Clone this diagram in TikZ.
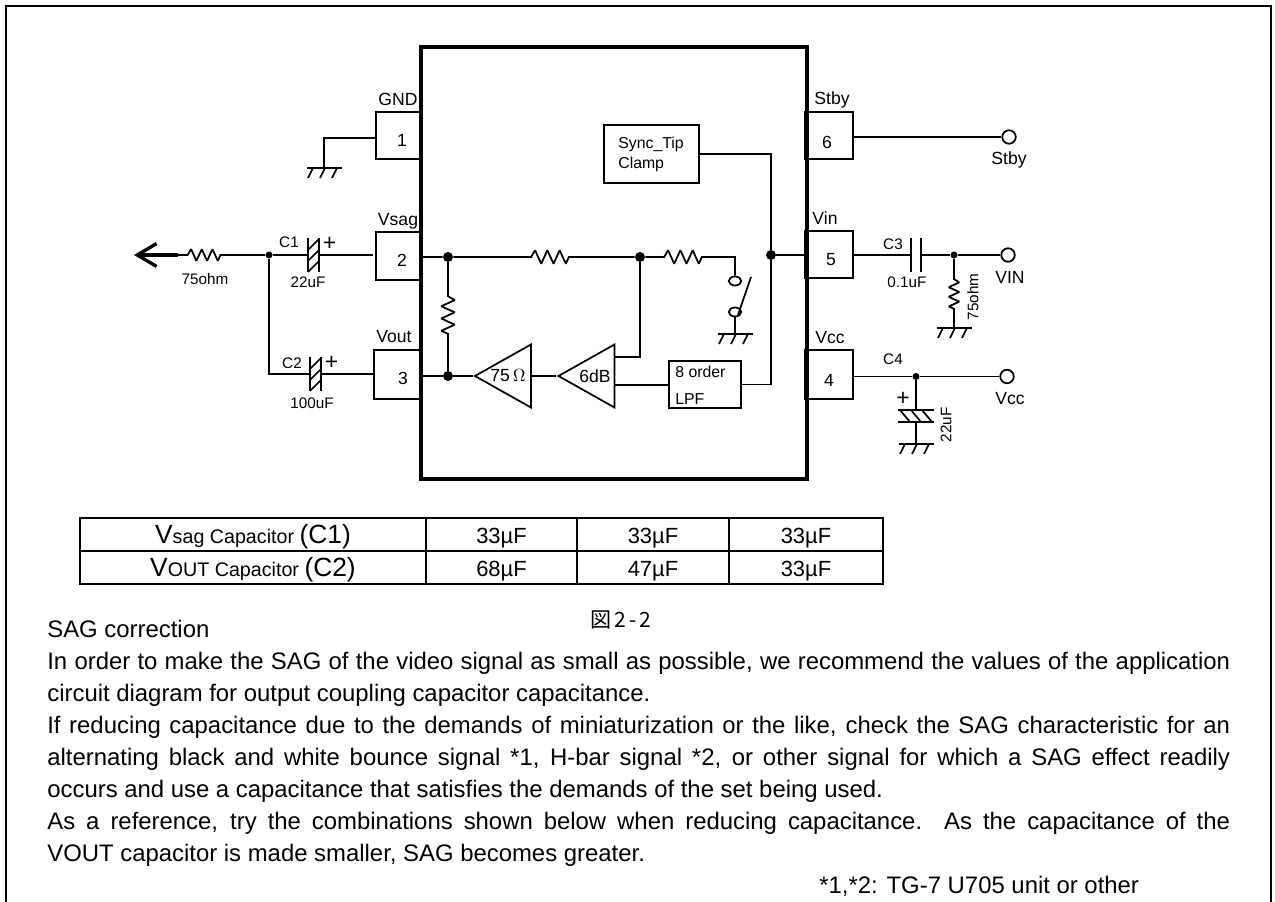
\documentclass[tikz,border=0pt]{standalone}
\usepackage{fontspec}
\setmainfont{Liberation Sans}
\newfontfamily\cjkfont[LetterSpace=15]{Noto Sans CJK JP}
\usepackage[RPvoltages]{circuitikz}
\usetikzlibrary{arrows.meta, shapes.geometric}
\ctikzset{bipoles/length=0.9cm, bipoles/thickness=1}
\tikzset{
wire/.style={line width=1pt},
pinbox/.style={draw, line width=1pt, inner sep=0pt},
pinnum/.style={inner sep=0pt, font=\fontsize{10}{12}\selectfont},
lbl/.style={inner sep=0pt, font=\fontsize{8.7}{10}\selectfont},
pinlbl/.style={inner sep=0pt, font=\fontsize{10}{12}\selectfont},
ampl/.style={draw, line width=1pt, isosceles triangle, isosceles triangle stretches, shape border rotate=180, inner sep=0pt, minimum width=1.26cm, minimum height=1.12cm},
jdot/.style={circle, fill, inner sep=0pt, minimum size=0.2cm},
jsmall/.style={circle, fill, inner sep=0pt, minimum size=0.14cm},
term/.style={circle, draw, line width=1pt, inner sep=0pt, minimum size=0.27cm},
swoval/.style={ellipse, draw, line width=1pt, inner sep=0pt, minimum width=0.25cm, minimum height=0.18cm},
cellbox/.style={draw, line width=1.2pt, inner sep=0pt, minimum height=0.66cm, text height=10.7pt, text depth=0pt, font=\fontsize{12.5}{14}\selectfont},
bigcell/.style={cellbox, minimum width=6.92cm, font=\fontsize{15}{17}\selectfont},
bodytxt/.style={inner sep=0pt, anchor=base west, font=\fontsize{13.6}{15}\selectfont},
pics/gndmark/.style={code={
\draw[wire] (-17.5,0) -- (17.5,0);
\foreach \gx in {-11,1,13}
\draw[wire] (\gx,0) -- (\gx-5,10);
}},
pics/hcap/.style={code={
\draw[wire] (-5.5,-17) -- (-5.5,17) (5.5,-17) -- (5.5,17);
\foreach \cy in {-11,0,11}
\draw[wire] (-5.5,\cy+6) -- (5.5,\cy-5);
\node[inner sep=0pt, font=\fontsize{13}{14}\selectfont] at (16,-11) {+};
}}
}
\begin{document}
\begin{tikzpicture}[x=0.02cm, y=-0.02cm]
\useasboundingbox (0,0) rectangle (1275,902);
% frame
\draw[line width=1.1pt] (6,902) -- (6,6) -- (1271,6) -- (1271,902);

% chip and pins
\node[draw, line width=1.8pt, inner sep=0pt, minimum width=7.72cm, minimum height=8.64cm] (chip) at (614,263) {};
\node[pinbox, minimum width=0.9cm, minimum height=0.94cm] (pin1) at (398.5,135.5) {};
\node[pinbox, minimum width=0.9cm, minimum height=0.96cm] (pin2) at (398.5,256) {};
\node[pinbox, minimum width=0.94cm, minimum height=0.98cm] (pin3) at (397.5,374.5) {};
\node[pinbox, minimum width=0.92cm, minimum height=0.94cm] (pin6) at (830,135.5) {};
\node[pinbox, minimum width=0.92cm, minimum height=0.94cm] (pin5) at (830,254.5) {};
\node[pinbox, minimum width=0.92cm, minimum height=0.98cm] (pin4) at (830,374.5) {};
\foreach \pinid/\pinx/\piny in {1/402/140,2/402/260,3/403/378,6/827/142,5/831/260,4/829/380}
\node[pinnum] (n\pinid) at (\pinx,\piny) {\pinid};
\foreach \pinid in {6,5,4}
\draw[line width=1.8pt] ([xshift=-0.02cm]pin\pinid.north west) -- ([xshift=-0.02cm]pin\pinid.south west);

\node[pinlbl] (lgnd) at (398,99) {GND};
\node[pinlbl] (lvsag) at (398,221) {Vsag};
\node[pinlbl] (lvout) at (394,337) {Vout};
\node[pinlbl] (lstby) at (832,100) {Stby};
\node[pinlbl] (lvin) at (825,218) {Vin};
\node[pinlbl] (lvcc) at (830,338) {Vcc};

% pin 1
\coordinate (g1) at (324,168);
\coordinate (g1up) at (324,138);
\draw[wire] (pin1.west |- g1up) -- (g1up) -- (g1);
\pic at (g1) {gndmark};

% output side
\coordinate (atip) at (134,255);
\coordinate (abase) at (178,255);
\coordinate (r4a) at (184.5,255);
\coordinate (r4b) at (223.5,255);
\node[jsmall] (jl) at (269,255) {};
\coordinate (c1) at (313.5,255);
\coordinate (c1l) at (308,255);
\coordinate (c1r) at (319,255);
\coordinate (c1e) at (373,255);
\coordinate (c2) at (315.5,374);
\coordinate (c2l) at (310,374);
\coordinate (c2r) at (321,374);
\coordinate (c2e) at (373,374);
\draw[-{Straight Barb[length=11pt,width=13pt]}, line width=1.9pt] (abase) -- (atip);
\draw[wire, /tikz/circuitikz/bipoles/length=0.78cm] (abase) -- (r4a) to [R] (r4b) -- (jl);
\draw[wire] (jl) -- (c1l) (c1r) -- (c1e);
\draw[wire] (jl) -- (jl |- c2) -- (c2l) (c2r) -- (c2e);
\pic at (c1) {hcap};
\pic at (c2) {hcap};
\node[lbl] (lc1) at (289,242) {C1};
\node[lbl] (l22a) at (308,282) {22uF};
\node[lbl] (l75a) at (205,279) {75ohm};
\node[lbl] (lc2) at (292,363) {C2};
\node[lbl] (l100) at (312,403) {100uF};

% inside the chip
\node[jdot] (ja) at (448,257) {};
\node[jdot] (jb) at (448,376) {};
\node[jdot] (jc) at (640,257) {};
\node[jdot] (jd) at (771,255) {};
\node[ampl] (amp75) at (512.5,376) {};
\node[ampl] (amp6) at (596,376) {};
\node[pinlbl] (l75o) at (508,376) {75$\,\Omega$};
\node[pinlbl] (l6db) at (595,376) {6dB};
\node[pinbox, minimum width=1.44cm, minimum height=0.94cm] (lpf) at (705,384.5) {};
\node[lbl, anchor=west, font=\fontsize{9}{10}\selectfont] (l8o) at (675,372) {8 order};
\node[lbl, anchor=west, font=\fontsize{9}{10}\selectfont] (llpf) at (675,399) {LPF};
\node[pinbox, minimum width=1.9cm, minimum height=1.16cm] (sync) at (651.5,154) {};
\node[lbl, anchor=west, font=\fontsize{9}{10}\selectfont] (lsy) at (618,144) {Sync\_Tip};
\node[lbl, anchor=west, font=\fontsize{9}{10}\selectfont] (lcl) at (618,164) {Clamp};
\coordinate (r1a) at (448,292.5);
\coordinate (r1b) at (448,337.5);
\coordinate (r2a) at (527.5,257);
\coordinate (r2b) at (572.5,257);
\coordinate (r3a) at (660.5,257);
\coordinate (r3b) at (705.5,257);
\coordinate (swc) at (735,257);
\coordinate (ampb) at (531,376);
\coordinate (ampup) at (614,357);
\coordinate (amplo) at (614,385);
\coordinate (g2) at (735,334);
\coordinate (lvtop) at (751,277);
\coordinate (lvbot) at (738,315);
\node[swoval] (swa) at (735,281) {};
\node[swoval] (swb) at (735,312) {};
\draw[wire] (chip.west |- ja) -- (ja) -- (r2a) to [R] (r2b) -- (jc) -- (r3a) to [R] (r3b) -- (swc) -- (swa);
\draw[wire] (ja) -- (r1a) to [R] (r1b) -- (jb);
\draw[wire] (chip.west |- jb) -- (jb) -- (amp75.apex);
\draw[wire] (ampb) -- (amp6.apex);
\draw[wire] (jc) -- (jc |- ampup) -- (ampup);
\draw[wire] (amplo) -- (amplo -| lpf.west);
\draw[wire] (swb) -- (g2);
\draw[wire] (lvbot) -- (lvtop);
\pic at (g2) {gndmark};
\draw[wire] (sync.east) -- (sync.east -| jd) -- (jd);
\draw[wire] (lpf.east) -- (lpf.east -| jd) -- (jd);
\draw[wire] (jd) -- (pin5.west |- jd);

% input side
\node[term] (tstby) at (1009,137) {};
\node[term] (tvin) at (1008,255) {};
\node[term] (tvcc) at (1007,376.5) {};
\node[pinlbl] (lstb2) at (1009,160) {Stby};
\node[pinlbl] (lvin2) at (1010,277) {VIN};
\node[pinlbl] (lvcc2) at (1010,399) {Vcc};
\draw[wire] (pin6.east |- tstby) -- (tstby);

\coordinate (c3l) at (911,255);
\coordinate (c3r) at (921,255);
\coordinate (c3lt) at (911,238);
\coordinate (c3lb) at (911,272);
\coordinate (c3rt) at (921,238);
\coordinate (c3rb) at (921,272);
\node[jsmall] (je) at (954,255) {};
\coordinate (r5a) at (954,276.5);
\coordinate (r5b) at (954,311.5);
\coordinate (g3) at (954,328);
\draw[wire] (pin5.east |- c3l) -- (c3l) (c3r) -- (je) -- (tvin);
\draw[wire] (c3lt) -- (c3lb) (c3rt) -- (c3rb);
\draw[wire, /tikz/circuitikz/bipoles/length=0.7cm] (je) -- (r5a) to [R] (r5b) -- (g3);
\pic at (g3) {gndmark};
\node[lbl] (lc3) at (893,244) {C3};
\node[lbl] (l01) at (907,282) {0.1uF};
\node[lbl, rotate=90] (l75b) at (973,297) {75ohm};

\node[jsmall] (jf) at (916,376.5) {};
\coordinate (c4t) at (916,410);
\coordinate (c4b) at (916,422);
\coordinate (g4) at (916,444);
\draw[wire] (pin4.east |- jf) -- (jf) -- (tvcc);
\draw[wire] (jf) -- (c4t) (c4b) -- (g4);
\draw[wire] (898,410) -- (934,410) (898,422) -- (934,422);
\foreach \cx in {-11,0,11}
\draw[wire] (916+\cx-5,410) -- (916+\cx+5,422);
\pic at (g4) {gndmark};
\node[inner sep=0pt, font=\fontsize{13}{14}\selectfont] (plusc4) at (903,399) {+};
\node[lbl] (lc4) at (893,359) {C4};
\node[lbl, rotate=90] (l22b) at (946,425) {22uF};

% table
\node[bigcell] (t11) at (253,534.5) {V{\fontsize{11.2}{12}\selectfont sag Capacitor }(C1)};
\node[bigcell] (t21) at (253,567.5) {V{\fontsize{11.2}{12}\selectfont OUT Capacitor }(C2)};
\foreach \rowid/\rowy/\valb/\valc/\vald in {1/534.5/33/33/33,2/567.5/68/47/33} {
\node[cellbox, minimum width=3.02cm] (t\rowid2) at (501.5,\rowy) {\valb µF};
\node[cellbox, minimum width=3.04cm] (t\rowid3) at (653,\rowy) {\valc µF};
\node[cellbox, minimum width=3.08cm] (t\rowid4) at (806,\rowy) {\vald µF};
}

% text
\node[inner sep=0pt, font=\cjkfont\fontsize{12}{14}\selectfont] (figno) at (621,620) {図2-2};
\node[bodytxt] (b0) at (47,637) {SAG correction};
\node[bodytxt] (b1) at (47,669) {\makebox[23.66cm][s]{In order to make the SAG of the video signal as small as possible, we recommend the values of the application}};
\node[bodytxt] (b2) at (47,701) {circuit diagram for output coupling capacitor capacitance.};
\node[bodytxt] (b3) at (47,733) {\makebox[23.66cm][s]{If reducing capacitance due to the demands of miniaturization or the like, check the SAG characteristic for an}};
\node[bodytxt] (b4) at (47,765) {\makebox[23.66cm][s]{alternating black and white bounce signal *1, H-bar signal *2, or other signal for which a SAG effect readily}};
\node[bodytxt] (b5) at (47,797) {occurs and use a capacitance that satisfies the demands of the set being used.};
\node[bodytxt] (b6) at (47,829) {\makebox[23.66cm][s]{As a reference, try the combinations shown below when reducing capacitance.\ \ As the capacitance of the}};
\node[bodytxt] (b7) at (47,861) {VOUT capacitor is made smaller, SAG becomes greater.};
\node[bodytxt] (b8) at (819,893) {*1,*2: TG-7 U705 unit or other};
\end{tikzpicture}
\end{document}
